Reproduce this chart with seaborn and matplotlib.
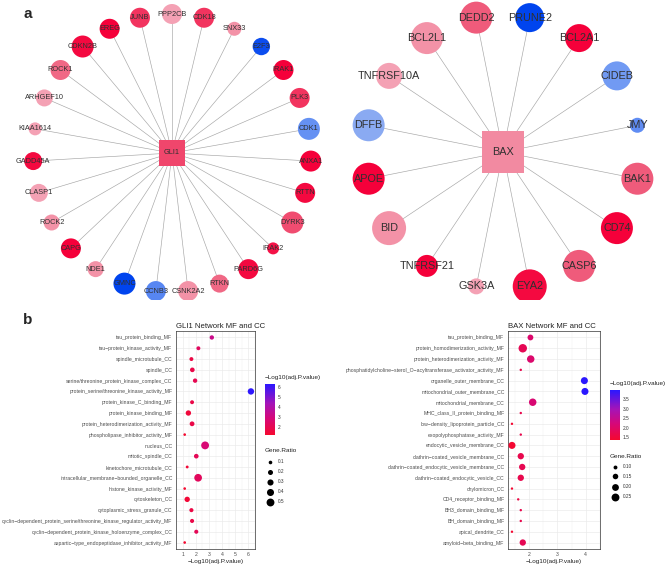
import numpy as np
import pandas as pd
import matplotlib
matplotlib.use("Agg")
import matplotlib.pyplot as plt
import seaborn as sns
from matplotlib.colors import LinearSegmentedColormap, Normalize
from matplotlib.cm import ScalarMappable

sns.set_theme(style="white")
plt.rcParams['font.family'] = ['Liberation Sans', 'DejaVu Sans']

W, H = 668, 567

# ---------------- network data (panel a) ----------------
gli1_hub = "GLI1"
gli1_hub_fc = 0.82
gli1_genes = ["PPP2CB", "CDK18", "SNX33", "E2F3", "IRAK1", "PLK3", "CDK1", "ANXA1",
              "RTTN", "DYRK3", "IRAK2", "PARD6G", "RTKN", "CSNK2A2", "CCNB3", "GMNC",
              "NDE1", "CAPG", "ROCK2", "CLASP1", "GADD45A", "KIAA1614", "ARHGEF10",
              "ROCK1", "CDKN2B", "EREG", "JUNB"]
gli1_fc = [0.55, 0.86, 0.6, -0.95, 1.0, 0.86, -0.6, 1.0,
           0.97, 0.8, 0.95, 0.97, 0.72, 0.6, -0.65, -1.0,
           0.6, 1.0, 0.6, 0.55, 0.97, 0.55, 0.55,
           0.72, 0.97, 1.0, 0.86]
gli1_score = [1.0, 1.0, 0.7, 0.87, 1.0, 1.0, 1.1, 1.05,
              1.0, 1.1, 0.6, 1.0, 0.9, 1.0, 1.0, 1.1,
              0.8, 1.0, 0.8, 0.9, 0.9, 0.65, 0.85,
              1.0, 1.1, 1.0, 1.0]

bax_hub = "BAX"
bax_hub_fc = 0.62
bax_genes = ["PRUNE2", "BCL2A1", "CIDEB", "JMY", "BAK1", "CD74", "CASP6", "EYA2",
             "GSK3A", "TNFRSF21", "BID", "APOE", "DFFB", "TNFRSF10A", "BCL2L1", "DEDD2"]
bax_fc = [-1.0, 1.0, -0.55, -0.62, 0.76, 1.0, 0.76, 0.97,
          0.55, 1.0, 0.6, 1.0, -0.45, 0.55, 0.6, 0.76]
bax_score = [1.45, 1.4, 1.45, 0.75, 1.6, 1.6, 1.6, 1.7,
             0.8, 1.1, 1.7, 1.6, 1.6, 1.3, 1.6, 1.6]

# ---------------- enrichment data (panel b) ----------------
gli1_terms = [
    "tau_protein_binding_MF",
    "tau\u2212protein_kinase_activity_MF",
    "spindle_microtubule_CC",
    "spindle_CC",
    "serine/threonine_protein_kinase_complex_CC",
    "protein_serine/threonine_kinase_activity_MF",
    "protein_kinase_C_binding_MF",
    "protein_kinase_binding_MF",
    "protein_heterodimerization_activity_MF",
    "phospholipase_inhibitor_activity_MF",
    "nucleus_CC",
    "mitotic_spindle_CC",
    "kinetochore_microtubule_CC",
    "intracellular_membrane\u2212bounded_organelle_CC",
    "histone_kinase_activity_MF",
    "cytoskeleton_CC",
    "cytoplasmic_stress_granule_CC",
    "cyclin\u2212dependent_protein_serine/threonine_kinase_regulator_activity_MF",
    "cyclin\u2212dependent_protein_kinase_holoenzyme_complex_CC",
    "aspartic\u2212type_endopeptidase_inhibitor_activity_MF",
]
gli1_logp = [3.22, 2.2, 1.67, 1.74, 1.95, 6.19, 1.72, 1.44, 1.72, 1.16,
             2.71, 2.04, 1.35, 2.18, 1.16, 1.35, 1.67, 1.72, 2.04, 1.16]
gli1_ratio = [0.15, 0.12, 0.12, 0.17, 0.15, 0.33, 0.12, 0.23, 0.18, 0.05,
              0.5, 0.17, 0.06, 0.48, 0.05, 0.23, 0.13, 0.13, 0.13, 0.05]

bax_terms = [
    "tau_protein_binding_MF",
    "protein_homodimerization_activity_MF",
    "protein_heterodimerization_activity_MF",
    "phosphatidylcholine\u2212sterol_O\u2212acyltransferase_activator_activity_MF",
    "organelle_outer_membrane_CC",
    "mitochondrial_outer_membrane_CC",
    "mitochondrial_membrane_CC",
    "MHC_class_II_protein_binding_MF",
    "low\u2212density_lipoprotein_particle_CC",
    "exopolyphosphatase_activity_MF",
    "endocytic_vesicle_membrane_CC",
    "clathrin\u2212coated_vesicle_membrane_CC",
    "clathrin\u2212coated_endocytic_vesicle_membrane_CC",
    "clathrin\u2212coated_endocytic_vesicle_CC",
    "chylomicron_CC",
    "CD4_receptor_binding_MF",
    "BH3_domain_binding_MF",
    "BH_domain_binding_MF",
    "apical_dendrite_CC",
    "amyloid\u2212beta_binding_MF",
]
bax_logp = [2.05, 1.78, 2.06, 1.71, 3.95, 3.97, 2.13, 1.71, 1.40, 1.71,
            1.40, 1.71, 1.76, 1.71, 1.40, 1.62, 1.71, 1.71, 1.40, 1.78]
bax_ratio = [0.16, 0.28, 0.23, 0.07, 0.21, 0.21, 0.23, 0.07, 0.07, 0.07,
             0.21, 0.18, 0.18, 0.18, 0.07, 0.07, 0.07, 0.07, 0.07, 0.18]

# colour scales
net_cmap = LinearSegmentedColormap.from_list(
    "net", [(0.0, "#0044ee"), (0.25, "#7ea4f4"), (0.5, "#f7dde3"),
            (0.775, "#f4a2b5"), (0.88, "#ef5d7c"), (1.0, "#f5003a")])
net_norm = Normalize(-1, 1)
dot_cmap = LinearSegmentedColormap.from_list(
    "dot", [(0.0, "#f5082f"), (0.33, "#d5087a"), (0.62, "#a414b8"), (1.0, "#2a17ff")])

fig = plt.figure(figsize=(W / 100, H / 100), dpi=100)


def px_axes(x0, y0, x1, y1):
    return fig.add_axes([x0 / W, 1 - y1 / H, (x1 - x0) / W, (y1 - y0) / H])


def draw_network(ax, center, radius, start, hub, hub_fc, hub_side, genes, fc, score, fs):
    cx, cy = center
    n = len(genes)
    ang = np.deg2rad(start - np.arange(n) * 360.0 / n)
    xs = cx + radius * np.cos(ang)
    ys = cy - radius * np.sin(ang)
    for x, y in zip(xs, ys):
        ax.plot([cx, x], [cy, y], color="#a5a5a5", lw=0.45, zorder=1)
    # node radius in px -> marker area in pt^2
    d_pt = 2 * 10 * np.array(score) * 0.72
    ax.scatter(xs, ys, s=d_pt ** 2, c=net_cmap(net_norm(np.array(fc))),
               linewidths=0, zorder=2)
    ax.scatter([cx], [cy], marker="s", s=(hub_side * 0.72) ** 2,
               c=[net_cmap(net_norm(hub_fc))], linewidths=0, zorder=3)
    ax.text(cx, cy, hub, ha="center", va="center", fontsize=fs, color="#303030", zorder=4)
    for x, y, g in zip(xs, ys, genes):
        ax.text(x, y, g, ha="center", va="center", fontsize=fs, color="#303030", zorder=4)


ax_net = px_axes(0, 0, W, 300)
ax_net.set_xlim(0, W)
ax_net.set_ylim(300, 0)
ax_net.axis("off")
draw_network(ax_net, (172, 153), 139, 90, gli1_hub, gli1_hub_fc, 27,
             gli1_genes, gli1_fc, gli1_score, 5.3)
draw_network(ax_net, (503, 152), 137, 78.75, bax_hub, bax_hub_fc, 43,
             bax_genes, bax_fc, bax_score, 7.8)

fig.text(28 / W, 1 - 14 / H, "a", fontsize=11, fontweight="bold", ha="center", va="center")
fig.text(28 / W, 1 - 320 / H, "b", fontsize=11, fontweight="bold", ha="center", va="center")


def dotplot(box, terms, logp, ratio, title, hue_lim, size_norm, sizes, xlim, xticks,
            cbar_box, cbar_ticks, leg_vals, leg_fmt, leg_y, leg_title_y):
    ax = px_axes(*box)
    df = pd.DataFrame({"term": terms, "logp": logp, "ratio": ratio})
    sns.scatterplot(data=df, x="logp", y="term", hue="logp", size="ratio",
                    palette=dot_cmap, hue_norm=hue_lim, sizes=sizes, size_norm=size_norm,
                    legend=False, linewidth=0, ax=ax, zorder=3)
    ax.set_xlim(*xlim)
    ax.set_ylim(len(terms) - 0.4, -0.6)
    ax.set_xticks(xticks)
    ax.set_xticks(np.arange(xticks[0] - 0.5, xticks[-1] + 1, 1.0), minor=True)
    ax.grid(True, which="major", color="#ebebeb", lw=0.5)
    ax.grid(True, which="minor", axis="x", color="#f2f2f2", lw=0.35)
    ax.set_axisbelow(True)
    for sp in ax.spines.values():
        sp.set_color("#333333")
        sp.set_linewidth(0.5)
    ax.tick_params(axis="both", which="major", labelsize=3.68, length=1.5, width=0.4,
                   color="#333333", labelcolor="#4d4d4d", pad=1)
    ax.tick_params(axis="x", which="minor", length=0)
    ax.set_ylabel("")
    ax.set_xlabel("\u2212Log10(adj.P.value)", fontsize=4.6, labelpad=1, color="#222222")
    ax.set_title(title, loc="left", fontsize=5.6, pad=2.5, color="#222222")

    # colour bar legend
    cx0, cy0, cx1, cy1 = cbar_box
    cax = px_axes(cx0, cy0, cx1, cy1)
    cb = fig.colorbar(ScalarMappable(Normalize(*hue_lim), dot_cmap), cax=cax)
    cb.outline.set_visible(False)
    cb.set_ticks(cbar_ticks)
    cax.tick_params(labelsize=3.4, length=0, pad=2, labelcolor="#333333")
    fig.text(cx0 / W, 1 - (cy0 - 6) / H, "\u2212Log10(adj.P.value)", fontsize=4.6,
             va="center", ha="left", color="#222222")

    # size legend
    fig.text(cx0 / W, 1 - leg_title_y / H, "Gene.Ratio", fontsize=4.6,
             va="center", ha="left", color="#222222")
    lax = px_axes(cx0, leg_y[0] - 6, cx0 + 40, leg_y[-1] + 6)
    lax.set_xlim(cx0, cx0 + 40)
    lax.set_ylim(leg_y[-1] + 6, leg_y[0] - 6)
    lax.axis("off")
    smin, smax = sizes
    nmin, nmax = size_norm
    for v, y in zip(leg_vals, leg_y):
        s = smin + (v - nmin) / (nmax - nmin) * (smax - smin)
        lax.scatter([cx0 + 5], [y], s=s, color="black", linewidths=0)
        lax.text(cx0 + 13, y, leg_fmt.format(v), fontsize=3.4, va="center", color="#333333")
    return ax


dotplot((176, 331, 255, 549), gli1_terms, gli1_logp, gli1_ratio,
        "GLI1 Network MF and CC", (1.16, 6.25), (0.05, 0.5), (3.6, 32.0),
        (0.93, 6.45), [1, 2, 3, 4, 5, 6],
        (265, 384, 275, 435), [2, 3, 4, 5, 6],
        [0.1, 0.2, 0.3, 0.4, 0.5], "{:.1f}", [462, 472, 482, 492, 502], 451)

dotplot((508, 331, 600, 549), bax_terms, bax_logp, bax_ratio,
        "BAX Network MF and CC", (1.36, 3.97), (0.07, 0.28), (3.0, 37.0),
        (1.26, 4.07), [2, 3, 4],
        (610, 390, 620, 440), [1.5, 2.0, 2.5, 3.0, 3.5],
        [0.10, 0.15, 0.20, 0.25], "{:.2f}", [467, 476, 487, 497], 456)

fig.savefig("out.png", dpi=100)
